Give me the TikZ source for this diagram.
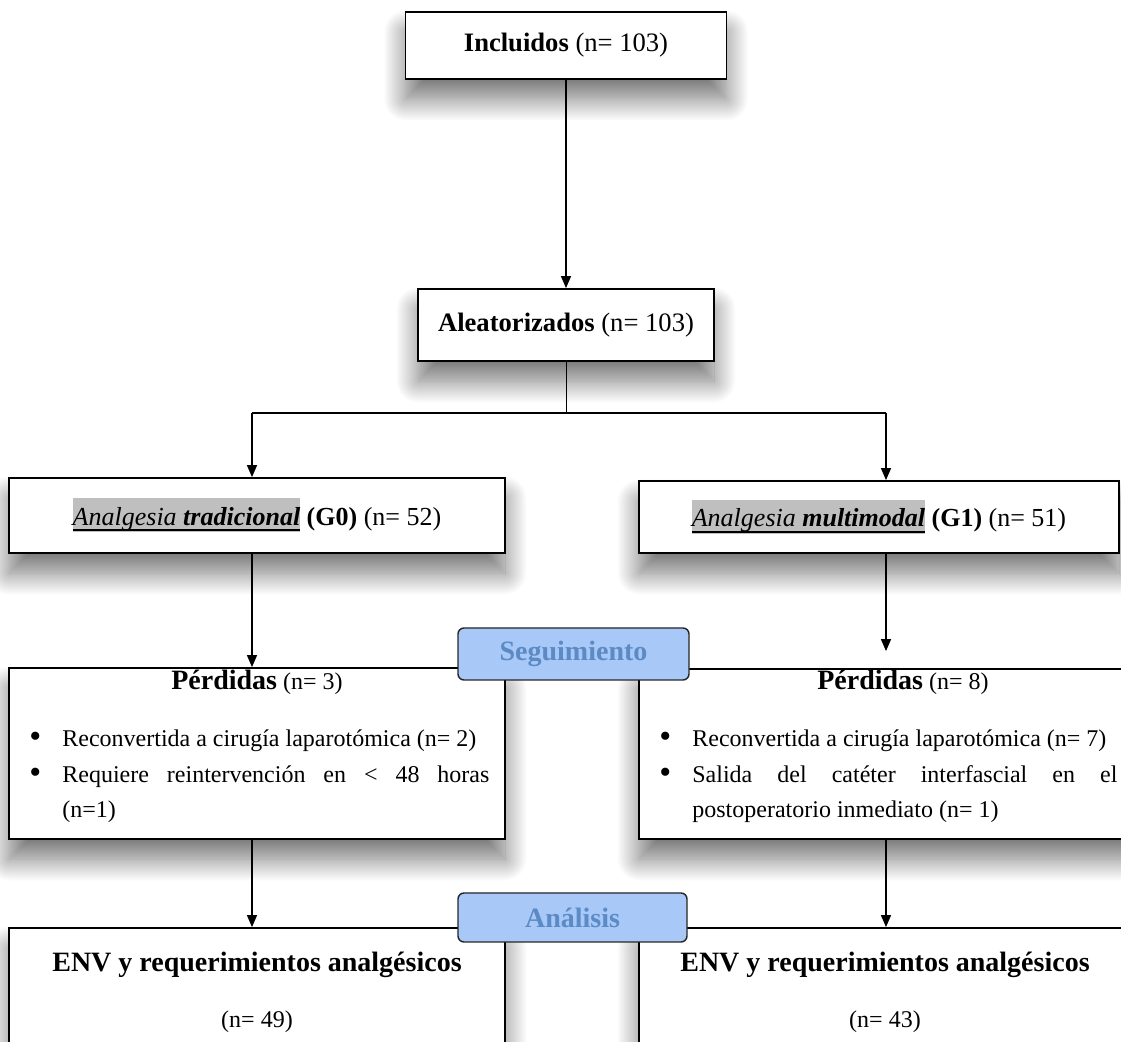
\documentclass[tikz,border=0pt]{standalone}
\usepackage{fontspec}
\setmainfont{Liberation Serif}
\usetikzlibrary{arrows.meta,shadows.blur,calc}

\definecolor{hlgray}{HTML}{BFBFBF}
\definecolor{tabfill}{HTML}{A8C8F8}
\definecolor{tabtext}{HTML}{5B8AC4}

% gray highlight with a heavy underline
\newsavebox\hlbox
\newcommand\hlul[1]{\sbox\hlbox{#1}{\setlength{\fboxsep}{0pt}\colorbox{hlgray}{\rule[-3.5pt]{0pt}{17pt}\rlap{\rule[-3pt]{\wd\hlbox}{1.1pt}}\usebox\hlbox}}}
\newcommand\itembullet{\leavevmode\llap{\makebox[16.5pt][l]{\raisebox{-0.3pt}{\fontsize{17}{17}\selectfont\textbullet}}}}

\tikzset{
  box/.style={draw=black, line width=0.9pt, fill=white, inner sep=0pt,
    blur shadow={shadow xshift=0pt, shadow yshift=-10pt, shadow blur radius=11pt,
      shadow blur steps=30, shadow opacity=55}},
  tabbox/.style={draw=black!85, line width=0.7pt, fill=tabfill, rounded corners=3pt,
    inner sep=0pt, text=tabtext, font=\fontsize{14}{16}\selectfont\bfseries},
  conn/.style={line width=0.75pt},
  arr/.style={conn, -{Triangle[length=6pt,width=5pt]}},
  toptext/.style={font=\fontsize{13.3}{16}\selectfont},
  headtext/.style={inner sep=0pt, font=\fontsize{12}{16}\selectfont},
  listtext/.style={inner sep=0pt, anchor=base west, align=left},
}

\begin{document}
\begin{tikzpicture}[x=0.5pt,y=-0.5pt]
\path[use as bounding box] (0,0) rectangle (1121,1042);
\clip (0,0) rectangle (1121,1042);

% enrolment and allocation
\node[box, toptext, minimum width=160.5pt, minimum height=33.5pt] (inc) at (566,45.5)
  {\textbf{Incluidos} (n= 103)};
\node[box, toptext, minimum width=148pt, minimum height=36pt] (ale) at (566,325)
  {\textbf{Aleatorizados} (n= 103)};

\node[box, font=\fontsize{13}{16}\selectfont, minimum width=248pt, minimum height=37.5pt] (g0) at (257,515.5)
  {\hlul{\textit{Analgesia \textbf{tradicional}}} \textbf{(G0)} (n= 52)};
\node[box, font=\fontsize{13}{16}\selectfont, minimum width=240pt, minimum height=36pt] (g1) at (879,517)
  {\hlul{\textit{Analgesia \textbf{multimodal}}} \textbf{(G1)} (n= 51)};

% follow-up
\node[box, minimum width=248pt, minimum height=85.5pt] (p0) at (257,753.5) {};
\node[box, minimum width=264pt, minimum height=85pt] (p1) at (903,754) {};

\node[headtext] (p0h) at (257,682) {{\fontsize{14}{16}\selectfont\bfseries Pérdidas} (n= 3)};
\node[headtext] (p1h) at (903,682) {{\fontsize{14}{16}\selectfont\bfseries Pérdidas} (n= 8)};

\node[listtext] (p0l) at (62,747) {\parbox[t]{213.5pt}{\fontsize{12}{17.75}\selectfont
  \itembullet Reconvertida a cirugía laparotómica (n= 2)\par
  \itembullet Requiere reintervención en < 48 horas\linebreak (n=1)}};
\node[listtext] (p1l) at (692,747) {\parbox[t]{212.5pt}{\fontsize{12}{17.75}\selectfont
  \itembullet Reconvertida a cirugía laparotómica (n= 7)\par
  \itembullet Salida del catéter interfascial en el\linebreak postoperatorio inmediato (n= 1)}};

% analysis
\node[box, minimum width=248pt, minimum height=70pt] (e0) at (257,998) {};
\node[box, minimum width=246pt, minimum height=70pt] (e1) at (885,998) {};

\node[headtext, font=\fontsize{14}{16}\selectfont\bfseries] (e0h) at (257,965) {ENV y requerimientos analgésicos};
\node[headtext] (e0n) at (257,1022) {(n= 49)};
\node[headtext, font=\fontsize{14}{16}\selectfont\bfseries] (e1h) at (885,965) {ENV y requerimientos analgésicos};
\node[headtext] (e1n) at (885,1022) {(n= 43)};

% stage tabs
\node[tabbox, minimum width=115.5pt, minimum height=26pt] (seg) at (573.5,654) {Seguimiento};
\node[tabbox, minimum width=114.5pt, minimum height=24.5pt] (ana) at (572.5,917.5) {Análisis};

% connectors
\coordinate (split) at (566,413);
\coordinate (brL) at (252,413);
\coordinate (brR) at (886,413);

\draw[arr] (inc.south) -- (ale.north);
\draw[line width=0.5pt] (ale.south) -- (split);
\draw[line width=1.2pt] (brL) -- (brR);
\draw[arr] (brL) -- (brL |- g0.north);
\draw[arr] (brR) -- (brR |- g1.north);
\draw[arr] (brL |- g0.south) -- (brL |- p0.north);
\draw[arr] (brR |- g1.south) -- ([yshift=8.5pt]brR |- p1.north);
\draw[arr] (brL |- p0.south) -- (brL |- e0.north);
\draw[arr] (brR |- p1.south) -- (brR |- e1.north);
\end{tikzpicture}
\end{document}
